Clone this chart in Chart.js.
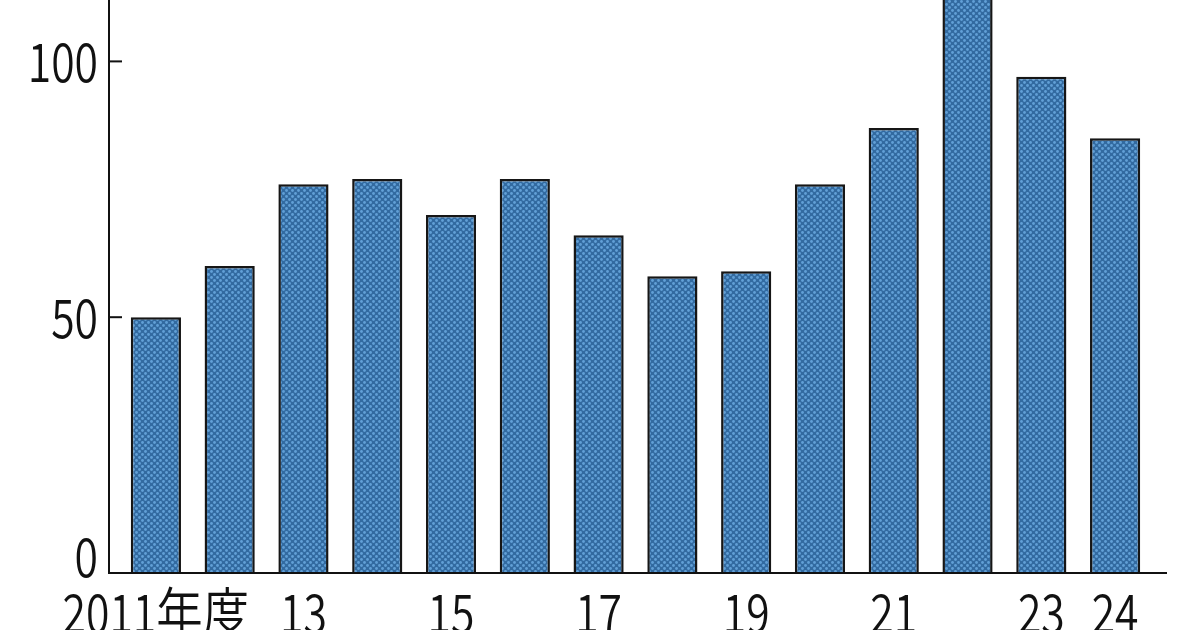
<!DOCTYPE html>
<html>
<head>
<meta charset="utf-8">
<script src="https://cdn.jsdelivr.net/npm/chart.js@4"></script>
<style>
  html, body { margin: 0; padding: 0; background: #fff; }
  #wrap { width: 1200px; height: 630px; position: relative; }
</style>
</head>
<body>
<div id="wrap"><canvas id="chart"></canvas></div>
<script>
'use strict';

// ─── Data ────────────────────────────────────────────────────────────────────

const YEARS   = ['2011', '2012', '2013', '2014', '2015', '2016', '2017',
                 '2018', '2019', '2020', '2021', '2022', '2023', '2024'];
const LABELS  = ['2011年度', '', '13', '', '15', '', '17', '', '19', '', '21', '', '23', '24'];
const VALUES  = [50, 60, 76, 77, 70, 77, 66, 58, 59, 76, 87, 120, 97, 85];
const Y_TICKS = [0, 50, 100];
const Y_MAX   = 112;

const FONT = "'Noto Sans CJK JP', 'Noto Sans', sans-serif";
const FONT_SIZE = 54;
const DIGIT_SQUEEZE = 0.79; // condensed look of the original digits
const KANJI_SQUEEZE = 0.86;

// ─── Dotted fill pattern ─────────────────────────────────────────────────────

function makePattern() {
  const c = document.createElement('canvas');
  c.width = 6; c.height = 6;
  const g = c.getContext('2d');
  g.fillStyle = '#326aa0';
  g.fillRect(0, 0, 6, 6);
  g.fillStyle = '#62a0d6';
  [[1.5, 1.5], [4.5, 4.5]].forEach(([px, py]) => {
    g.beginPath();
    g.arc(px, py, 1.4, 0, Math.PI * 2);
    g.fill();
  });
  return g.createPattern(c, 'repeat');
}

// ─── Condensed text helper ───────────────────────────────────────────────────

// split into runs of ascii / non-ascii so each gets its own squeeze
function runsOf(text) {
  const runs = [];
  for (const ch of text) {
    const cjk = ch.charCodeAt(0) > 0x2000;
    const last = runs[runs.length - 1];
    if (last && last.cjk === cjk) last.s += ch;
    else runs.push({ s: ch, cjk });
  }
  return runs;
}

function textWidth(ctx, text) {
  return runsOf(text).reduce((w, r) =>
    w + ctx.measureText(r.s).width * (r.cjk ? KANJI_SQUEEZE : DIGIT_SQUEEZE), 0);
}

function drawCondensed(ctx, text, left, y) {
  let x = left;
  runsOf(text).forEach(r => {
    const k = r.cjk ? KANJI_SQUEEZE : DIGIT_SQUEEZE;
    ctx.save();
    ctx.translate(x, y);
    ctx.scale(k, 1);
    ctx.fillText(r.s, 0, 0);
    ctx.restore();
    x += ctx.measureText(r.s).width * k;
  });
}

// ─── Axis decorations (axis lines, inward ticks, labels) ─────────────────────

const axisDeco = {
  id: 'axisDeco',
  afterDraw(chart) {
    const { ctx, chartArea: a, scales: { x, y } } = chart;
    const axisX = a.left - 10;
    const base  = y.getPixelForValue(0);
    ctx.save();
    ctx.strokeStyle = '#111';
    ctx.lineWidth = 2;
    ctx.beginPath();
    ctx.moveTo(axisX, 0);
    ctx.lineTo(axisX, base);
    ctx.lineTo(a.right + 15, base);
    ctx.stroke();

    ctx.fillStyle = '#111';
    ctx.font = `350 ${FONT_SIZE}px ${FONT}`;
    ctx.textAlign = 'left';
    ctx.textBaseline = 'middle';

    Y_TICKS.forEach(v => {
      const py = y.getPixelForValue(v);
      if (v !== 0) {
        ctx.beginPath();
        ctx.moveTo(axisX, py);
        ctx.lineTo(axisX + 13, py);
        ctx.stroke();
      }
      const label = String(v);
      const w = textWidth(ctx, label);
      drawCondensed(ctx, label, axisX - 11 - w, v === 0 ? py - 17 : py);
    });

    LABELS.forEach((label, i) => {
      if (!label) return;
      const cx = x.getPixelForValue(i);
      const w = textWidth(ctx, label);
      drawCondensed(ctx, label, cx - w / 2, base + 39);
    });
    ctx.restore();
  },
};

// ─── Chart ───────────────────────────────────────────────────────────────────

new Chart(document.getElementById('chart'), {
  type: 'bar',
  data: {
    labels: YEARS,
    datasets: [{
      data: VALUES,
      backgroundColor: makePattern(),
      borderColor: '#161616',
      borderWidth: 2.5,
      borderSkipped: 'bottom',
      barPercentage: 0.68,
      categoryPercentage: 1,
    }],
  },
  options: {
    responsive: true,
    maintainAspectRatio: false,
    animation: false,
    layout: { padding: { left: 119, right: 48, top: 0, bottom: 57 } },
    plugins: { legend: { display: false }, tooltip: { enabled: false } },
    scales: {
      x: {
        grid: { display: false, drawTicks: false },
        border: { display: false },
        ticks: { display: false },
      },
      y: {
        min: 0,
        max: Y_MAX,
        grid: { display: false, drawTicks: false },
        border: { display: false },
        ticks: { display: false },
      },
    },
  },
  plugins: [axisDeco],
});
</script>
</body>
</html>
